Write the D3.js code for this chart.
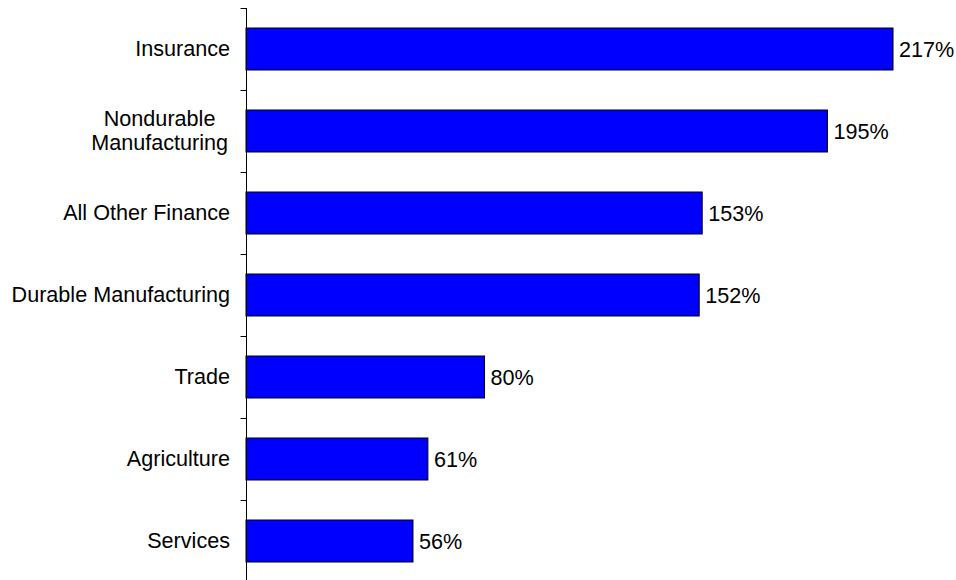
<!DOCTYPE html>
<html>
<head>
<meta charset="utf-8">
<script src="https://cdn.jsdelivr.net/npm/d3@7"></script>
<style>
  body { margin: 0; background: #fff; }
</style>
</head>
<body>
<div id="chart"></div>
<script>
const categories = ['Insurance', 'Nondurable\nManufacturing', 'All Other Finance', 'Durable Manufacturing', 'Trade', 'Agriculture', 'Services']
const values = [217, 195, 153, 152, 80, 61, 56]

const width = 956
const height = 580
const axisX = 246
const fontSize = 21.6

const svg = d3.select('#chart').append('svg')
    .attr('width', width)
    .attr('height', height)
    .style('font-family', 'Arial, "Liberation Sans", sans-serif')

const x = d3.scaleLinear().domain([0, 217]).range([axisX, 893])
const y = d3.scaleBand().domain(categories).range([8, 582]).paddingInner(0.488).paddingOuter(0.244)

// bars
svg.selectAll('rect.bar').data(values).enter().append('rect')
    .attr('class', 'bar')
    .attr('x', x(0))
    .attr('y', (d, i) => y(categories[i]))
    .attr('width', d => x(d) - x(0))
    .attr('height', y.bandwidth())
    .attr('fill', '#0000ff')
    .attr('stroke', '#000')
    .attr('stroke-width', 1)

// value labels
svg.selectAll('text.val').data(values).enter().append('text')
    .attr('class', 'val')
    .text(d => d + '%')
    .attr('x', d => x(d) + 6)
    .attr('y', (d, i) => y(categories[i]) + y.bandwidth() / 2)
    .attr('dy', '0.35em')
    .attr('font-size', fontSize)
    .attr('fill', '#000')

// y axis: line + ticks at band boundaries
const axis = svg.append('g').attr('transform', `translate(${axisX + 0.5}, 0)`)
axis.append('line')
    .attr('y1', y.range()[0]).attr('y2', y.range()[1])
    .attr('stroke', '#000')
const step = y.step()
const bounds = d3.range(categories.length + 1).map(i => y.range()[0] + i * step)
axis.selectAll('line.tick').data(bounds).enter().append('line')
    .attr('class', 'tick')
    .attr('x1', -6).attr('x2', 0)
    .attr('y1', d => Math.round(d) + 0.5).attr('y2', d => Math.round(d) + 0.5)
    .attr('stroke', '#000')

// category labels
const rightEdge = 230
categories.forEach(c => {
    const lines = c.split('\n')
    const cy = y(c) + y.bandwidth() / 2
    const lh = 24
    const g = svg.append('g')
    const texts = lines.map((l, j) => g.append('text')
        .text(l)
        .attr('y', cy - 1 + (j - (lines.length - 1) / 2) * lh)
        .attr('dy', '0.35em')
        .attr('font-size', fontSize)
        .attr('fill', '#000'))
    if (lines.length === 1) {
        texts[0].attr('x', rightEdge).attr('text-anchor', 'end')
    } else {
        const w = d3.max(texts, t => t.node().getComputedTextLength())
        texts.forEach(t => t.attr('x', rightEdge - 2 - w / 2).attr('text-anchor', 'middle'))
    }
})
</script>
</body>
</html>
